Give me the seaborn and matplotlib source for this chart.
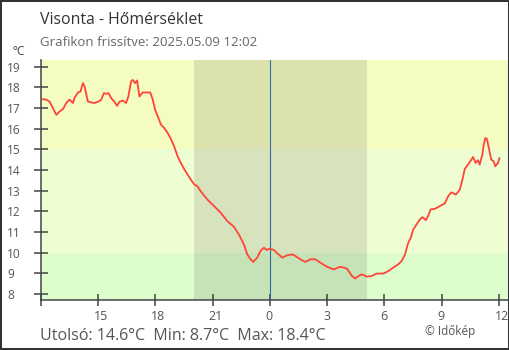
import numpy as np
import pandas as pd
import matplotlib
matplotlib.use("Agg")
import matplotlib.pyplot as plt
import matplotlib.transforms as mtransforms
from matplotlib.patches import Rectangle
import seaborn as sns

# ---- data (hours relative to midnight, temperature in °C) ----
hours = [-11.93, -11.70, -11.53, -11.40, -11.23, -11.18, -11.01, -10.83, -10.66, -10.49,
         -10.31, -10.23, -10.05, -9.91, -9.79, -9.70, -9.61, -9.53, -9.36, -9.18,
         -9.00, -8.83, -8.69, -8.57, -8.45, -8.31, -8.14, -8.00, -7.88, -7.70,
         -7.53, -7.41, -7.27, -7.18, -7.06, -6.95, -6.83, -6.66, -6.48, -6.26,
         -6.13, -6.01, -5.87, -5.70, -5.53, -5.35, -5.18, -5.01, -4.83, -4.66,
         -4.49, -4.31, -4.14, -3.96, -3.79, -3.62, -3.27, -2.92, -2.57, -2.22,
         -1.88, -1.62, -1.36, -1.18, -1.01, -0.87, -0.66, -0.49, -0.31, -0.17,
         0.00, 0.21, 0.39, 0.65, 0.91, 1.17, 1.34, 1.60, 1.86, 2.12,
         2.38, 2.64, 2.99, 3.34, 3.69, 4.04, 4.30, 4.47, 4.64, 4.82,
         5.08, 5.34, 5.60, 5.95, 6.21, 6.47, 6.73, 6.91, 7.08, 7.25,
         7.38, 7.51, 7.69, 7.86, 8.00, 8.17, 8.29, 8.42, 8.64, 8.90,
         9.16, 9.34, 9.51, 9.74, 9.95, 10.09, 10.21, 10.38, 10.56, 10.64,
         10.78, 10.90, 10.99, 11.13, 11.20, 11.29, 11.37, 11.48, 11.60, 11.72,
         11.81, 11.95, 12.03]
temps = [17.43, 17.40, 17.30, 17.07, 16.75, 16.67, 16.83, 16.95, 17.24, 17.40,
         17.24, 17.48, 17.75, 17.80, 18.20, 18.04, 17.64, 17.31, 17.27, 17.24,
         17.30, 17.40, 17.72, 17.68, 17.72, 17.48, 17.30, 17.10, 17.30, 17.36,
         17.24, 17.55, 18.28, 18.36, 18.20, 18.33, 17.55, 17.75, 17.75, 17.75,
         17.40, 16.92, 16.59, 16.19, 16.03, 15.79, 15.50, 15.14, 14.66, 14.34,
         14.05, 13.78, 13.54, 13.30, 13.21, 12.97, 12.57, 12.25, 11.93, 11.52,
         11.25, 10.88, 10.40, 9.92, 9.68, 9.55, 9.76, 10.08, 10.24, 10.13,
         10.19, 10.13, 9.97, 9.76, 9.87, 9.92, 9.84, 9.68, 9.55, 9.68,
         9.68, 9.52, 9.32, 9.19, 9.32, 9.23, 8.87, 8.75, 8.87, 8.95,
         8.84, 8.87, 8.99, 8.99, 9.11, 9.28, 9.44, 9.60, 9.92, 10.48,
         10.72, 11.12, 11.37, 11.61, 11.72, 11.57, 11.77, 12.09, 12.12, 12.25,
         12.38, 12.73, 12.92, 12.81, 13.05, 13.54, 14.05, 14.26, 14.50, 14.63,
         14.34, 14.47, 14.26, 14.74, 15.22, 15.55, 15.50, 15.02, 14.50, 14.42,
         14.18, 14.34, 14.58]

x_ticks = [-12, -9, -6, -3, 0, 3, 6, 9, 12]
x_tick_labels = ["", "15", "18", "21", "0", "3", "6", "9", "12"]
y_ticks = [8, 9, 10, 11, 12, 13, 14, 15, 16, 17, 18, 19]
night = [-3.95, 5.10]
bands = [7.0, 10.0, 15.0, 20.0]
band_colors = ["#ddfdcd", "#effdd3", "#f5fcc2"]

title = "Visonta - Hőmérséklet"
subtitle = "Grafikon frissítve: 2025.05.09 12:02"
footer = "Utolsó: 14.6°C  Min: 8.7°C  Max: 18.4°C"
credit = "© Időkép"

df = pd.DataFrame({"h": hours, "t": temps})

sns.set_theme(style="white")
plt.rcParams["font.family"] = ["Open Sans", "DejaVu Sans"]

W, H = 510, 350
fig = plt.figure(figsize=(W / 100, H / 100), dpi=100)
ax = fig.add_axes([40.7 / W, 50 / H, (508.5 - 40.7) / W, 240 / H])

for i, c in enumerate(band_colors):
    ax.axhspan(bands[i], bands[i + 1], color=c, lw=0, zorder=0)
ax.axvspan(night[0], night[1], color="black", alpha=0.1, lw=0, zorder=1)
ax.axvline(0, color="#2f6f9f", lw=0.8, zorder=2)

sns.lineplot(data=df, x="h", y="t", ax=ax, color="#ff4438", linewidth=1.3,
             estimator=None, sort=False, zorder=3)

ax.set_xlim(-12, 12.5)
ax.set_ylim(7.71, 19.32)
ax.set_xlabel("")
ax.set_ylabel("")
ax.set_facecolor("white")

for s in ["top", "right"]:
    ax.spines[s].set_visible(False)
for s in ["left", "bottom"]:
    ax.spines[s].set_color("#444444")
    ax.spines[s].set_linewidth(1.1)

ax.set_xticks(x_ticks)
ax.set_xticklabels(x_tick_labels)
ax.set_yticks(y_ticks)
ax.set_yticklabels([str(v) for v in y_ticks])
ax.tick_params(axis="x", direction="inout", length=9, width=1.1, color="#444444",
               labelsize=9, labelcolor="#555555", pad=2.5, bottom=True)
ax.tick_params(axis="y", direction="inout", length=9.4, width=1.1, color="#444444",
               labelsize=8.6, labelcolor="#555555", pad=19.6, left=True)
for lbl in ax.get_yticklabels():
    lbl.set_horizontalalignment("left")
off = mtransforms.ScaledTranslation(-4 / 100, 0, fig.dpi_scale_trans)
for lbl in ax.get_xticklabels():
    lbl.set_horizontalalignment("left")
    lbl.set_transform(lbl.get_transform() + off)
ax.grid(False)

fig.text(40 / W, 1 - 24.5 / H, title, fontsize=11.4, color="#333333", ha="left", va="baseline")
fig.text(40 / W, 1 - 45.5 / H, subtitle, fontsize=9.5, color="#666666", ha="left", va="baseline")
fig.text(12 / W, 1 - 55 / H, "°C", fontsize=8.6, color="#444444", ha="left", va="baseline")
fig.text(40 / W, 1 - 340 / H, footer, fontsize=11.5, color="#555555", ha="left", va="baseline")
fig.text(425 / W, 1 - 335.5 / H, credit, fontsize=8.5, color="#555555", ha="left", va="baseline")

fig.patches.append(Rectangle((0, 0), 1, 1, transform=fig.transFigure, fill=False,
                             edgecolor="#333333", linewidth=2.9, zorder=100))

fig.savefig("out.png", dpi=100)
